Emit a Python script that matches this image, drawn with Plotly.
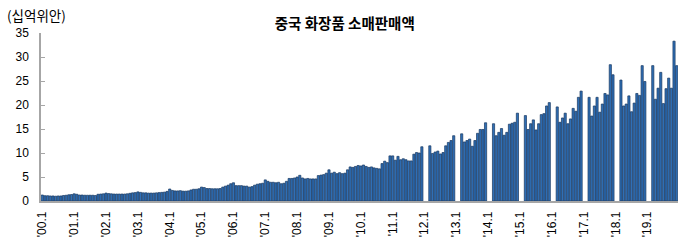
import plotly.graph_objects as go

# Monthly cosmetics retail sales in China (billion yuan); Jan/Feb not reported separately from 2012
years = list(range(2000, 2020))
sales_2000 = [1.25, 1.1, 1.1, 1.05, 1.05, 1.0, 1.05, 1.05, 1.15, 1.2, 1.3, 1.35]
sales_2001 = [1.5, 1.4, 1.25, 1.25, 1.2, 1.2, 1.2, 1.2, 1.15, 1.4, 1.45, 1.5]
sales_2002 = [1.65, 1.55, 1.5, 1.45, 1.45, 1.45, 1.45, 1.45, 1.5, 1.6, 1.7, 1.75]
sales_2003 = [1.9, 1.8, 1.7, 1.7, 1.65, 1.65, 1.65, 1.7, 1.75, 1.8, 1.85, 2.0]
sales_2004 = [2.5, 2.2, 2.1, 2.1, 2.15, 2.05, 2.05, 2.1, 2.3, 2.45, 2.45, 2.55]
sales_2005 = [2.9, 2.8, 2.6, 2.6, 2.55, 2.55, 2.55, 2.6, 2.9, 3.1, 3.3, 3.6]
sales_2006 = [3.8, 3.2, 3.2, 3.2, 3.1, 3.1, 2.9, 3.0, 3.3, 3.5, 3.6, 3.7]
sales_2007 = [4.4, 4.1, 3.9, 3.9, 3.8, 3.9, 3.6, 3.7, 4.1, 4.7, 4.7, 4.8]
sales_2008 = [5.0, 5.35, 4.8, 4.6, 4.7, 4.6, 4.6, 4.6, 5.3, 5.4, 5.5, 5.8]
sales_2009 = [6.5, 5.8, 6.0, 5.7, 5.9, 5.7, 5.8, 6.5, 7.1, 7.0, 7.2, 7.4]
sales_2010 = [7.3, 7.5, 7.2, 7.0, 7.1, 6.9, 6.8, 6.7, 7.8, 8.3, 8.0, 9.4]
sales_2011 = [9.4, 8.5, 9.3, 8.6, 8.8, 8.6, 8.35, 8.35, 9.75, 10.1, 10.0, 11.3]
sales_2012 = [None, None, 11.5, 9.9, 10.2, 10.4, 9.8, 10.1, 11.5, 12.2, 12.6, 13.6]
sales_2013 = [None, None, 14.0, 12.3, 12.6, 12.9, 11.4, 12.6, 14.1, 14.9, 14.9, 16.3]
sales_2014 = [None, None, 16.1, 13.6, 14.3, 15.1, 13.7, 14.3, 16.0, 16.2, 16.4, 18.3]
sales_2015 = [None, None, 17.8, 14.9, 16.1, 16.9, 14.8, 16.1, 18.0, 18.2, 19.8, 20.5]
sales_2016 = [None, None, 19.6, 16.4, 17.3, 18.3, 16.1, 17.1, 19.3, 18.7, 21.6, 22.9]
sales_2017 = [None, None, 21.6, 17.7, 19.8, 21.6, 18.5, 20.2, 22.4, 22.1, 28.4, 26.3]
sales_2018 = [None, None, 25.2, 19.8, 20.2, 21.9, 18.6, 20.4, 22.4, 22.0, 28.2, 24.9]
sales_2019 = [None, None, 28.2, 21.2, 23.5, 26.8, 20.3, 23.4, 25.6, 23.5, 33.3, 28.2]

yearly = [sales_2000, sales_2001, sales_2002, sales_2003, sales_2004, sales_2005,
          sales_2006, sales_2007, sales_2008, sales_2009, sales_2010, sales_2011,
          sales_2012, sales_2013, sales_2014, sales_2015, sales_2016, sales_2017,
          sales_2018, sales_2019]

months = []
values = []
for y, vals in zip(years, yearly):
    for m, v in enumerate(vals, start=1):
        months.append(f"{y}.{m:02d}")
        values.append(v)

tick_vals = [f"{y}.01" for y in years]
tick_text = [f"'{str(y)[2:]}.1" for y in years]

title_text = "중국 화장품 소매판매액"
unit_text = "(십억위안)"

fig = go.Figure(go.Bar(
    x=months, y=values,
    marker=dict(color="#2F6FB6", line=dict(color="#17375F", width=0.7)),
))

fig.update_layout(
    width=680, height=242,
    margin=dict(l=41, r=2, t=33, b=41),
    paper_bgcolor="white", plot_bgcolor="white",
    bargap=0.18,
    showlegend=False,
    font=dict(family="Liberation Sans, Arial, sans-serif", size=12, color="black"),
    title=dict(text=title_text, x=0.507, xanchor="center", y=1 - 24 / 242, yanchor="middle",
               font=dict(family="Noto Sans CJK KR", size=14.5, color="black", weight="bold")),
    annotations=[dict(text=unit_text, xref="paper", yref="paper",
                      x=-(41 - 5) / 637, y=(200.5 - 15) / 167.5,
                      xanchor="left", yanchor="middle", showarrow=False,
                      font=dict(family="Noto Sans CJK KR", size=13.5, color="black"))],
)

fig.update_xaxes(
    type="category", tickmode="array", tickvals=tick_vals, ticktext=tick_text,
    tickangle=-90, showline=True, linecolor="#A6A6A6", linewidth=1.5,
    ticks="", showgrid=False, zeroline=False,
    tickfont=dict(family="Liberation Sans, Arial, sans-serif", size=12),
    ticklabelstandoff=4,
)
fig.update_yaxes(
    range=[0, 35], dtick=5, showline=True, linecolor="#A6A6A6", linewidth=1.5,
    ticks="inside", ticklen=4, tickcolor="#A6A6A6", showgrid=False, zeroline=False,
    tickfont=dict(family="Liberation Sans, Arial, sans-serif", size=12),
    ticklabelstandoff=8,
)

fig.write_html("out.html")
